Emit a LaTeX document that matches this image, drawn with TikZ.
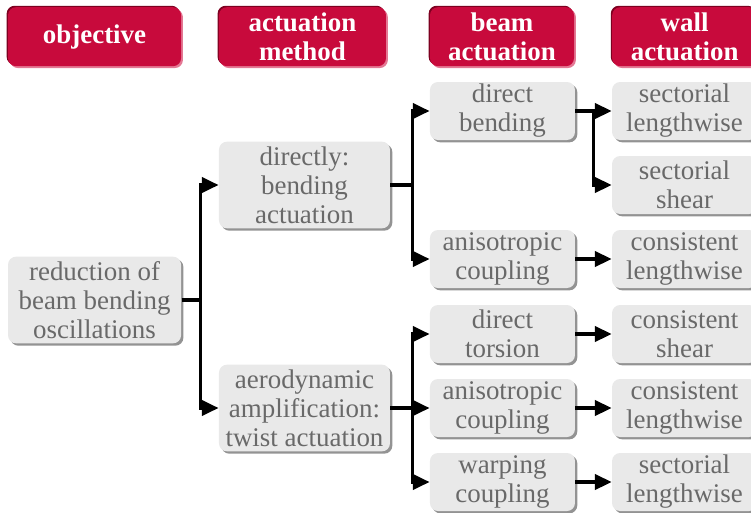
\documentclass[tikz,border=0pt]{standalone}
\usepackage{fontspec}
\setmainfont{Liberation Serif}
\usetikzlibrary{shadows, arrows.meta}

\definecolor{hdred}{RGB}{200,10,60}
\definecolor{hddark}{RGB}{125,0,32}
\definecolor{hdlight}{RGB}{228,120,148}
\definecolor{boxgray}{RGB}{233,233,233}
\definecolor{txtgray}{RGB}{105,105,105}

\tikzstyle{head} = [rectangle, rounded corners=0.12cm, minimum height=0.885cm, inner sep=0pt, align=center, text=white, fill=hdred, font=\fontsize{11.5}{12.4}\selectfont\bfseries, general shadow={shadow xshift=-0.6pt, shadow yshift=0.6pt, fill=hddark}, general shadow={shadow xshift=0.8pt, shadow yshift=-0.8pt, fill=hdlight}]
\tikzstyle{box} = [rectangle, rounded corners=0.12cm, inner sep=0pt, align=center, text=txtgray, fill=boxgray, font=\fontsize{11.5}{12.4}\selectfont, general shadow={shadow xshift=1pt, shadow yshift=-1pt, fill=gray!85}]
\tikzstyle{col1} = [box, minimum width=2.595cm, minimum height=1.3cm]
\tikzstyle{col2} = [box, minimum width=2.565cm, minimum height=1.3cm]
\tikzstyle{col3} = [box, minimum width=2.175cm, minimum height=0.87cm]
\tikzstyle{col4} = [box, minimum width=2.175cm, minimum height=0.87cm]
\tikzstyle{conn} = [line width=1.3pt, -{Triangle[length=2.5mm,width=2.3mm]}]

\begin{document}
\begin{tikzpicture}

\clip (0,0) rectangle (11.265,-7.68);

% header row
\node (hobj) [head, minimum width=2.595cm] at (1.418,-0.55) {objective};
\node (hmeth) [head, minimum width=2.505cm] at (4.537,-0.55) {actuation\\method};
\node (hbeam) [head, minimum width=2.16cm] at (7.53,-0.55) {beam\\actuation};
\node (hwall) [head, minimum width=2.175cm] at (10.27,-0.55) {wall\\actuation};

% objective
\node (root) [col1] at (1.418,-4.5) {reduction of\\beam bending\\oscillations};

% actuation method
\node (bend) [col2] at (4.567,-2.775) {directly:\\bending\\actuation};
\node (aero) [col2] at (4.567,-6.12) {aerodynamic\\amplification:\\twist actuation};

% beam actuation
\node (dirb) [col3] at (7.537,-1.665) {direct\\bending};
\node (aniA) [col3] at (7.537,-3.885) {anisotropic\\coupling};
\node (dirt) [col3] at (7.537,-5.01) {direct\\torsion};
\node (aniB) [col3] at (7.537,-6.12) {anisotropic\\coupling};
\node (warp) [col3] at (7.537,-7.23) {warping\\coupling};

% wall actuation
\node (secl) [col4] at (10.268,-1.665) {sectorial\\lengthwise};
\node (secs) [col4] at (10.268,-2.775) {sectorial\\shear};
\node (conl) [col4] at (10.268,-3.885) {consistent\\lengthwise};
\node (cons) [col4] at (10.268,-5.01) {consistent\\shear};
\node (conB) [col4] at (10.268,-6.12) {consistent\\lengthwise};
\node (secB) [col4] at (10.268,-7.23) {sectorial\\lengthwise};

\draw[conn] (root.east) -- ++(0.285,0) |- (bend.west);
\draw[conn] (root.east) -- ++(0.285,0) |- (aero.west);

\draw[conn] (bend.east) -- ++(0.33,0) |- (dirb.west);
\draw[conn] (bend.east) -- ++(0.33,0) |- (aniA.west);
\draw[conn] (aero.east) -- ++(0.33,0) |- (dirt.west);
\draw[conn] (aero.east) -- (aniB.west);
\draw[conn] (aero.east) -- ++(0.33,0) |- (warp.west);

\draw[conn] (dirb.east) -- (secl.west);
\draw[conn] (dirb.east) -- ++(0.27,0) |- (secs.west);
\draw[conn] (aniA.east) -- (conl.west);
\draw[conn] (dirt.east) -- (cons.west);
\draw[conn] (aniB.east) -- (conB.west);
\draw[conn] (warp.east) -- (secB.west);

\end{tikzpicture}
\end{document}
